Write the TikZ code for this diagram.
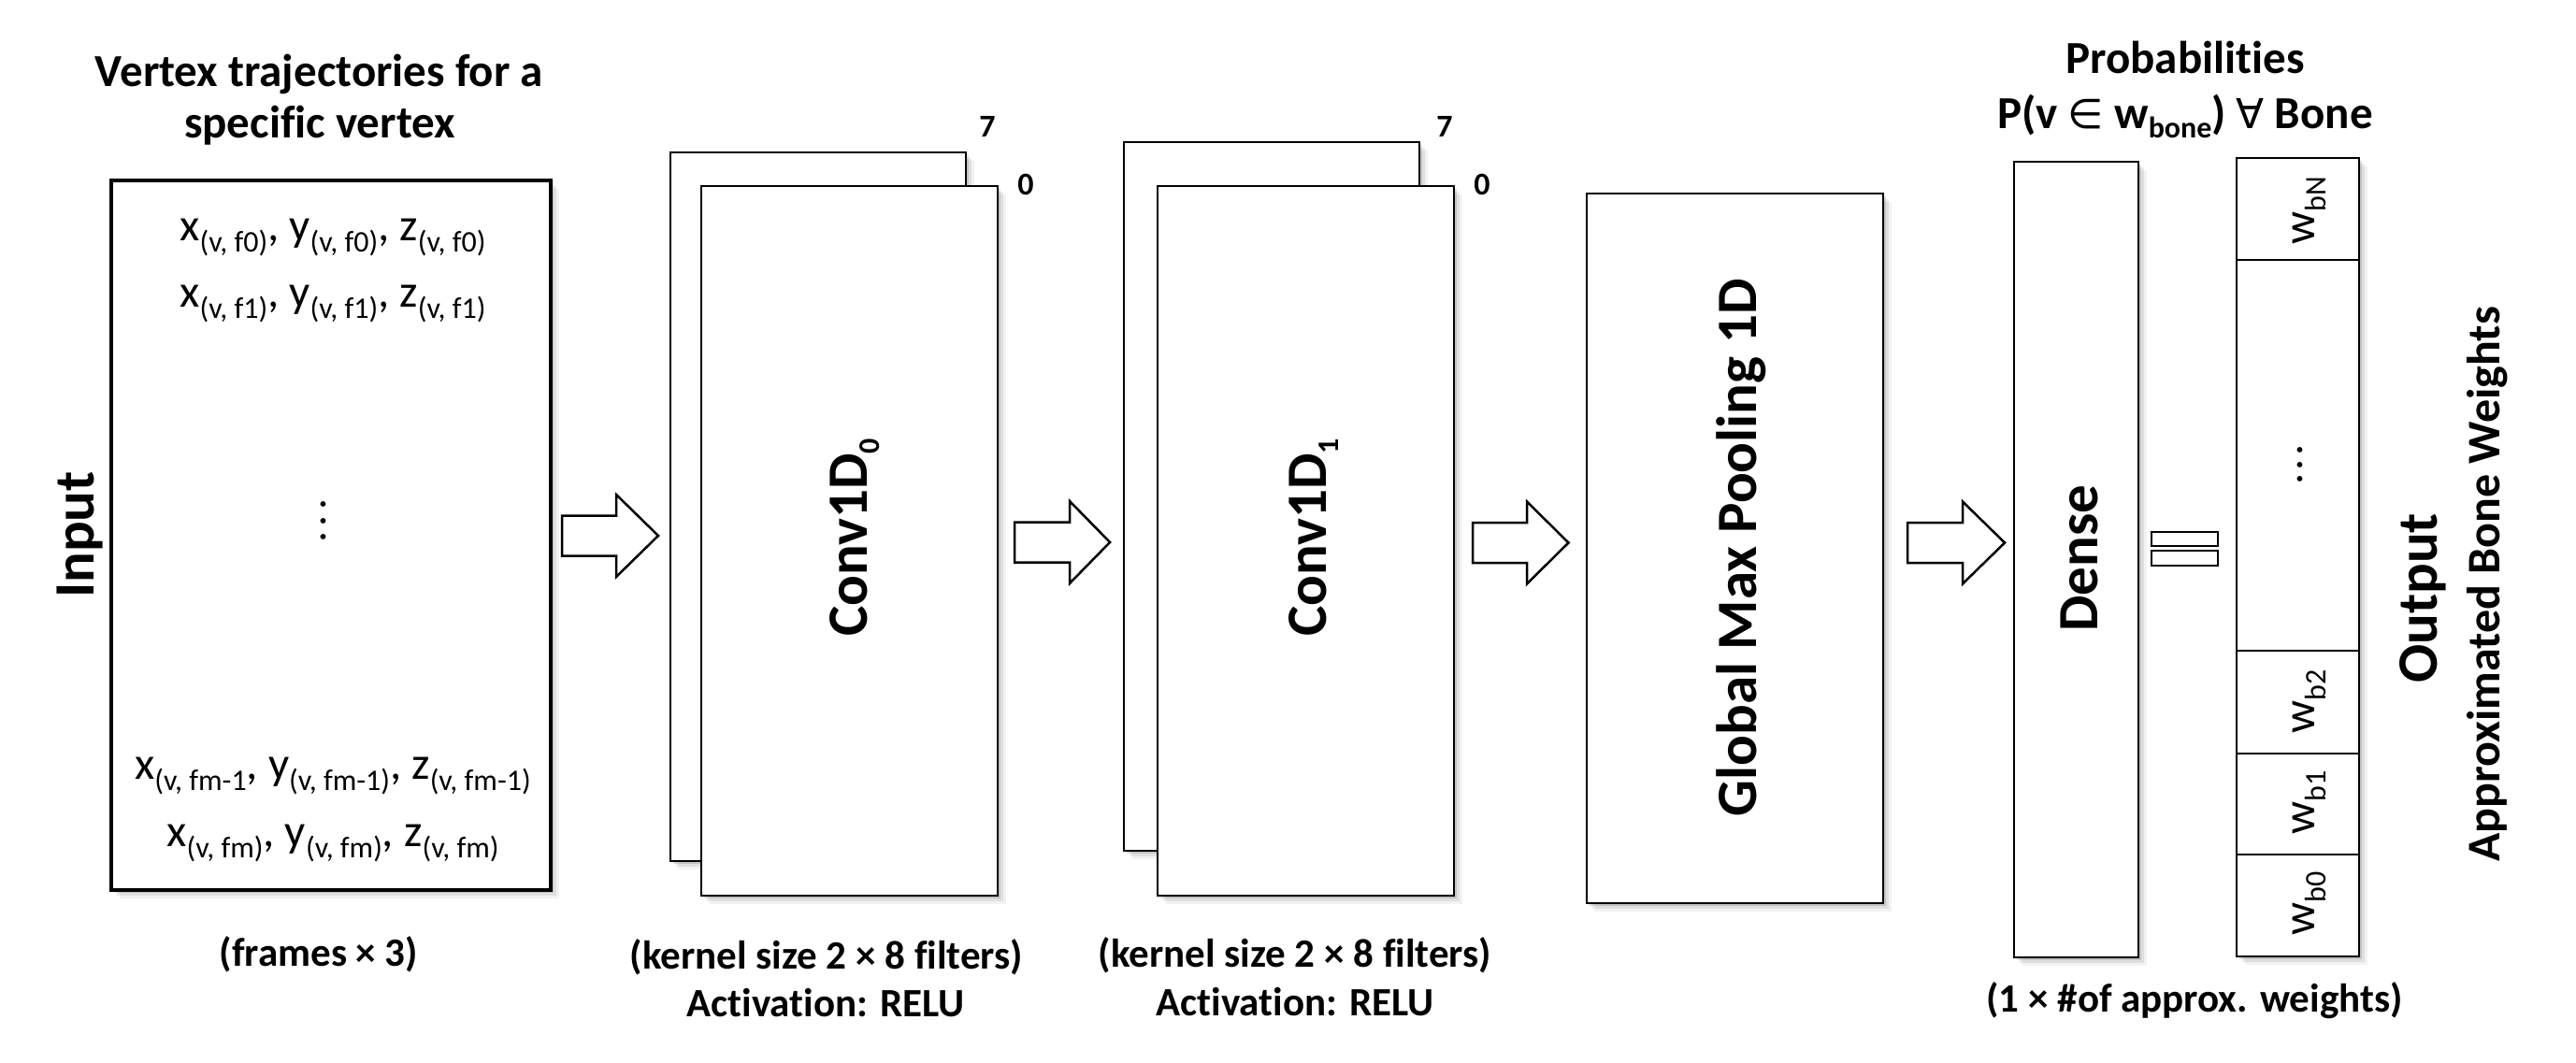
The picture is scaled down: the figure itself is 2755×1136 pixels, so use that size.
\documentclass[tikz,border=0pt]{standalone}
\usepackage{fontspec}
\setmainfont{Carlito}[Ligatures={TeX,NoCommon}]
\newfontfamily\symfont{DejaVu Sans}
\newcommand\fs[1]{\fontsize{#1}{#1}\selectfont}
\newcommand\lsub[2][12pt]{\raisebox{-#1}{\fs{32}#2}}
\newcommand\blockarrow[4]{%
  \draw[barrow] (#1,#4-21.5) -- (#2,#4-21.5) -- (#2,#4-44) -- (#3,#4) -- (#2,#4+44) -- (#2,#4+21.5) -- (#1,#4+21.5) -- cycle;}
\begin{document}
\begin{tikzpicture}[x=1pt,y=-1pt,
  shad/.style={
    preaction={fill=black,opacity=0.12,transform canvas={xshift=3pt,yshift=-3pt}},
    preaction={fill=black,opacity=0.08,transform canvas={xshift=6pt,yshift=-6pt}},
    preaction={fill=black,opacity=0.05,transform canvas={xshift=9pt,yshift=-9pt}}},
  box/.style={shad, draw, line width=2.5pt, fill=white, inner sep=0pt, outer sep=0pt},
  cell/.style={draw, line width=2.5pt, inner sep=0pt, outer sep=0pt, minimum width=131pt},
  lbl/.style={inner sep=0pt, outer sep=0pt, anchor=base},
  barrow/.style={draw, line width=2.5pt, fill=white, line join=miter},
  bigb/.style={font=\fs{61}\bfseries},
  midb/.style={font=\fs{49}\bfseries},
  capb/.style={font=\fs{43}\bfseries},
  numb/.style={font=\fs{34}\bfseries},
  coord/.style={font=\fs{49}}
]
\fill[white] (0,0) rectangle (2755,1136);
\useasboundingbox (0,0) rectangle (2755,1136);

% ---------- Input ----------
\node[lbl, midb] (title1) at (341.5,92) {Vertex trajectories for a};
\node[lbl, midb] (title2) at (342,147) {specific vertex};
\node[box, line width=3.5pt, minimum width=470pt, minimum height=759pt] (inp) at (354,572.5) {};
\node[lbl, coord] (l1) at (356,257) {x\lsub{(v, f0)}, y\lsub{(v, f0)}, z\lsub{(v, f0)}};
\node[lbl, coord] (l2) at (356,328) {x\lsub{(v, f1)}, y\lsub{(v, f1)}, z\lsub{(v, f1)}};
\node[inner sep=0pt, rotate=90, font=\fs{48}] (vdots) at (346,557) {.\kern5.5pt.\kern5.5pt.};
\node[lbl, coord] (l3) at (356,833) {x\lsub{(v, fm-1}, y\lsub{(v, fm-1)}, z\lsub{(v, fm-1)}};
\node[lbl, coord] (l4) at (356,905) {x\lsub{(v, fm)}, y\lsub{(v, fm)}, z\lsub{(v, fm)}};
\node[lbl, capb] (frames) at (341,1033) {(frames × 3)};
\node[lbl, bigb, rotate=90] (inlabel) at (100,572) {Input};

% ---------- Conv1D_0 ----------
\node[box, minimum width=316pt, minimum height=758pt] (c0b) at (875,542) {};
\node[box, minimum width=317pt, minimum height=759pt] (c0f) at (908.5,578.5) {};
\node[lbl, numb] (c0seven) at (1056,146) {7};
\node[lbl, numb] (c0zero) at (1097,208) {0};
\node[lbl, bigb, rotate=90] (c0txt) at (927,575) {Conv1D\lsub[13pt]{\bfseries 0}};
\node[lbl, capb] (c0k) at (884,1036) {(kernel size 2 × 8 filters)};
\node[lbl, capb] (c0a) at (883,1087) {Activation: RELU};

% ---------- Conv1D_1 ----------
\node[box, minimum width=316pt, minimum height=758pt] (c1b) at (1360,531) {};
\node[box, minimum width=317pt, minimum height=759pt] (c1f) at (1396.5,578.5) {};
\node[lbl, numb] (c1seven) at (1545,146) {7};
\node[lbl, numb] (c1zero) at (1585,208) {0};
\node[lbl, bigb, rotate=90] (c1txt) at (1418,575) {Conv1D\lsub[13pt]{\bfseries 1}};
\node[lbl, capb] (c1k) at (1385,1034) {(kernel size 2 × 8 filters)};
\node[lbl, capb] (c1a) at (1385,1086) {Activation: RELU};

% ---------- Global Max Pooling ----------
\node[box, minimum width=317pt, minimum height=759pt] (gmp) at (1855.5,586.5) {};
\node[lbl, bigb, rotate=90] (gmptxt) at (1878,586) {Global Max Pooling 1D};

% ---------- Dense ----------
\node[lbl, midb] (prob1) at (2337,78) {Probabilities};
\node[lbl, midb] (prob2) at (2337,137) {P(v {\symfont\mdseries\fs{44}∈} w\lsub[10pt]{\bfseries bone}) {\symfont\mdseries\fs{44}∀} Bone};
\node[box, minimum width=133pt, minimum height=851pt] (dense) at (2220.5,598.5) {};
\node[lbl, bigb, rotate=90] (densetxt) at (2243,597) {Dense};
\node[lbl, capb] (densecap) at (2347,1082) {(1 × \#of approx. weights)};

% ---------- equals ----------
\draw[line width=2.5pt] (2301,569) rectangle (2372,584);
\draw[line width=2.5pt] (2301,589) rectangle (2372,605);

% ---------- Output column ----------
\node[box, minimum width=131pt, minimum height=854pt] (outcol) at (2457.5,596) {};
\node[cell, minimum height=109pt] (cN) at (2457.5,223.5) {};
\node[cell, minimum height=418pt] (cdots) at (2457.5,487) {};
\node[cell, minimum height=110pt] (c2) at (2457.5,751) {};
\node[cell, minimum height=108pt] (c1) at (2457.5,860) {};
\node[cell, minimum height=109pt] (cz) at (2457.5,968.5) {};
\node[lbl, coord, rotate=90] (wN) at (2475,225) {w\lsub{bN}};
\node[inner sep=0pt, rotate=90, font=\fs{48}] (odots) at (2460,497) {.\kern3pt.\kern3pt.};
\node[lbl, coord, rotate=90] (w2) at (2475,750) {w\lsub{b2}};
\node[lbl, coord, rotate=90] (w1) at (2475,858) {w\lsub{b1}};
\node[lbl, coord, rotate=90] (w0) at (2475,966) {w\lsub{b0}};
\node[lbl, bigb, rotate=90] (outtxt) at (2606,640) {Output};
\node[lbl, font=\fs{50}\bfseries, rotate=90] (approx) at (2673,625) {Approximated Bone Weights};

% ---------- block arrows ----------
\blockarrow{601}{659}{704}{573}
\blockarrow{1085}{1144}{1187}{580}
\blockarrow{1575}{1633}{1677.5}{580.5}
\blockarrow{2040}{2099}{2144}{580.5}
\end{tikzpicture}
\end{document}
